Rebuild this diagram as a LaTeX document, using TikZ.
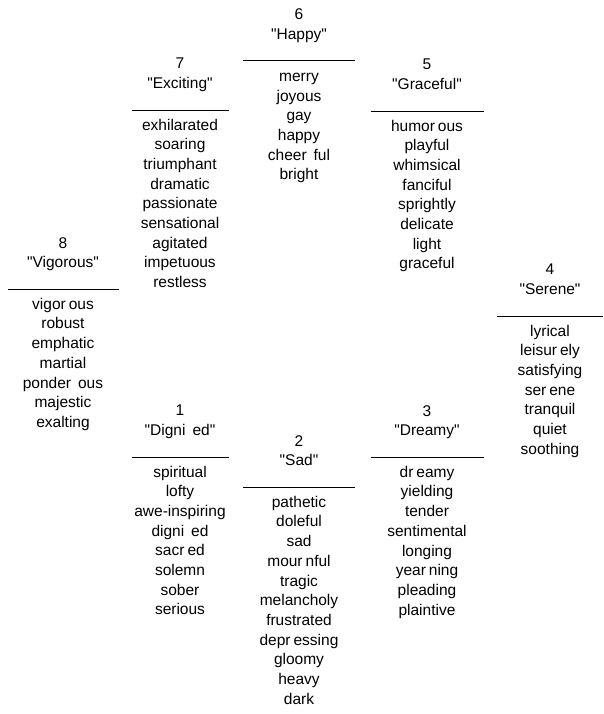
\documentclass[tikz,border=0pt]{standalone}
\usepackage{fontspec}
% plain family: no TeX input mapping, so " stays a straight quote
\newfontfamily\wordfont{Liberation Sans}
% gaps left by dropped glyphs and ligatures in the word lists
\newcommand\smallgap{\hspace{3pt}}
\newcommand\widegap{\hspace{7pt}}
\newcommand\qt{\symbol{34}}
\newcommand\clusterrule[1]{\rule[-2.5pt]{#1}{0.8pt}}
\begin{document}
\begin{tikzpicture}[x=1pt,y=-1pt,
  cluster/.style={anchor=north, inner sep=0pt, align=center,
    font=\wordfont\fontsize{15.5}{19.7}\selectfont}]
\useasboundingbox (0,0) rectangle (603,714);

% 6 -- top
\node[cluster] (happy) at (299,8.3)
  {6\\\qt Happy\qt\\\clusterrule{112pt}\\[3pt]merry\\joyous\\gay\\happy\\cheer\widegap ful\\bright};

% 7 -- upper left
\node[cluster] (exciting) at (180,58.1)
  {7\\\qt Exciting\qt\\\clusterrule{97pt}\\[2pt]exhilarated\\soaring\\triumphant\\dramatic\\passionate\\sensational\\agitated\\impetuous\\restless};

% 5 -- upper right
\node[cluster] (graceful) at (427,59.1)
  {5\\\qt Graceful\qt\\\clusterrule{113pt}\\[2pt]humor\smallgap ous\\playful\\whimsical\\fanciful\\sprightly\\delicate\\light\\graceful};

% 8 -- left
\node[cluster] (vigorous) at (63,237.1)
  {8\\\qt Vigorous\qt\\\clusterrule{111pt}\\[2pt]vigor\smallgap ous\\robust\\emphatic\\martial\\ponder\widegap ous\\majestic\\exalting};

% 4 -- right
\node[cluster] (serene) at (550,264.1)
  {4\\\qt Serene\qt\\\clusterrule{106pt}\\[2pt]lyrical\\leisur\smallgap ely\\satisfying\\ser\smallgap ene\\tranquil\\quiet\\soothing};

% 1 -- lower left
\node[cluster] (dignified) at (180,405.1)
  {1\\\qt Digni\widegap ed\qt\\\clusterrule{97pt}\\[2pt]spiritual\\lofty\\awe-inspiring\\digni\widegap ed\\sacr\smallgap ed\\solemn\\sober\\serious};

% 2 -- bottom
\node[cluster] (sad) at (299,435.1)
  {2\\\qt Sad\qt\\\clusterrule{112pt}\\[2pt]pathetic\\doleful\\sad\\mour\smallgap nful\\tragic\\melancholy\\frustrated\\depr\smallgap essing\\gloomy\\heavy\\dark};

% 3 -- lower right
\node[cluster] (dreamy) at (427,405.1)
  {3\\\qt Dreamy\qt\\\clusterrule{113pt}\\[2pt]dr\smallgap eamy\\yielding\\tender\\sentimental\\longing\\year\smallgap ning\\pleading\\plaintive};
\end{tikzpicture}
\end{document}
